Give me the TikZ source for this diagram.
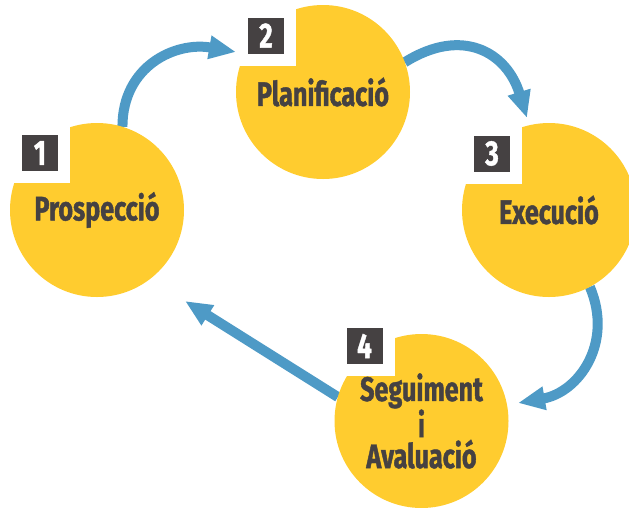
\documentclass[tikz,border=0pt]{standalone}
\usepackage{fontspec}
\setmainfont{Fira Sans}[FakeStretch=0.74, FakeBold=1.2]
\usepackage{tikz}
\usetikzlibrary{arrows.meta,backgrounds}

\definecolor{phaseyellow}{HTML}{FFCC2F}
\definecolor{boxgray}{HTML}{454142}
\definecolor{flowblue}{HTML}{4E9AC6}

\tikzset{
    phase/.style={circle, fill=phaseyellow, minimum size=174pt, inner sep=0pt, outer sep=0pt,
        text=boxgray, align=center, font=\fontsize{34}{31}\selectfont\bfseries},
    numbox/.style={rectangle, fill=boxgray, minimum size=36pt, inner sep=0pt, text=white,
        font=\fontsize{35}{35}\selectfont\bfseries, preaction={draw=white, line width=24pt}},
    flow/.style={draw=flowblue, line width=10pt, -{Triangle[length=27pt, width=22pt]}}
}

\begin{document}
\begin{tikzpicture}[x=1pt, y=1pt]
    \useasboundingbox (0,0) rectangle (629,-507);

    % Phases
    \node[phase] (c1) at (97,-210) {Prospecció};
    \node[phase] (c2) at (323,-92) {Planificació};
    \node[phase] (c3) at (549,-210) {Execució};
    \node[phase] (c4) at (421.5,-421) {Seguiment\\i\\Avaluació};

    % Numbers
    \node[numbox] (n1) at (40,-153) {1};
    \node[numbox] (n2) at (266,-35.5) {2};
    \node[numbox] (n3) at (492,-153.5) {3};
    \node[numbox] (n4) at (364.5,-346) {4};

    % Arrow ends
    \coordinate (tip1) at (236,-52);
    \coordinate (tip2) at (527,-118);
    \coordinate (tip3) at (518,-403);
    \coordinate (tip4) at (185,-301);

    % Cycle
    \begin{scope}[on background layer]
        \draw[flow] (c1.73) to[out=90, in=170, looseness=1.15] (tip1);
        \draw[flow] (c2.20) to[out=32, in=107, looseness=1.3] (tip2);
        \draw[flow] (c3.-62) to[out=-67, in=10, looseness=1.15] (tip3);
        \draw[flow] (c4.164) -- (tip4);
    \end{scope}

\end{tikzpicture}
\end{document}
